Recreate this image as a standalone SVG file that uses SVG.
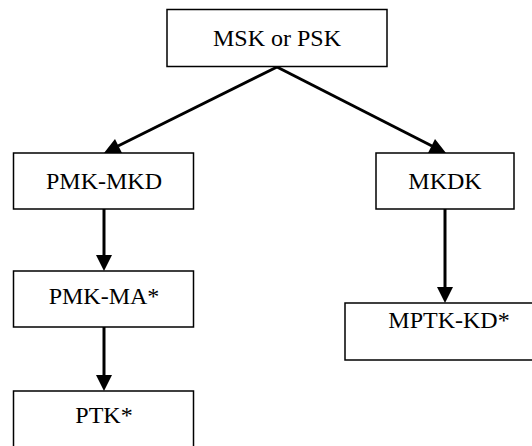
<svg xmlns="http://www.w3.org/2000/svg" width="532" height="446" viewBox="0 0 532 446">
<defs>
<style>
.box{fill:#fff;stroke:#000;stroke-width:1.5}
.lbl{font-family:"Liberation Serif","Times New Roman",serif;font-size:24px;fill:#000;text-anchor:middle}
.edge{stroke:#000;stroke-width:3;fill:none}
.head{fill:#000;stroke:none}
</style>
</defs>
<rect width="532" height="446" fill="#fff"/>
<g id="connectors">
<line class="edge" x1="277" y1="67" x2="118" y2="146"/>
<polygon class="head" points="104,153 115,139 122,153"/>
<line class="edge" x1="277" y1="67" x2="432" y2="146"/>
<polygon class="head" points="446,153 428,153 435,139"/>
<line class="edge" x1="104" y1="209" x2="104" y2="256"/>
<polygon class="head" points="96,255 112,255 104,271"/>
<line class="edge" x1="104" y1="327" x2="104" y2="376"/>
<polygon class="head" points="96,375 112,375 104,391"/>
<line class="edge" x1="445" y1="209" x2="445" y2="288"/>
<polygon class="head" points="437,287 453,287 445,303"/>
</g>
<g id="msk">
<rect class="box" x="167" y="9.5" width="220" height="57"/>
<text class="lbl" x="277" y="46">MSK or PSK</text>
</g>
<g id="pmk-mkd">
<rect class="box" x="13.5" y="153" width="180" height="56"/>
<text class="lbl" x="104" y="189">PMK-MKD</text>
</g>
<g id="mkdk">
<rect class="box" x="376" y="153" width="138" height="56"/>
<text class="lbl" x="445" y="189">MKDK</text>
</g>
<g id="pmk-ma">
<rect class="box" x="13.5" y="271" width="180" height="56"/>
<text class="lbl" x="104" y="304">PMK-MA*</text>
</g>
<g id="mptk-kd">
<rect class="box" x="345" y="303" width="210" height="57"/>
<text class="lbl" x="449" y="328">MPTK-KD*</text>
</g>
<g id="ptk">
<rect class="box" x="13.5" y="391" width="180" height="70"/>
<text class="lbl" x="104" y="423">PTK*</text>
</g>
</svg>
